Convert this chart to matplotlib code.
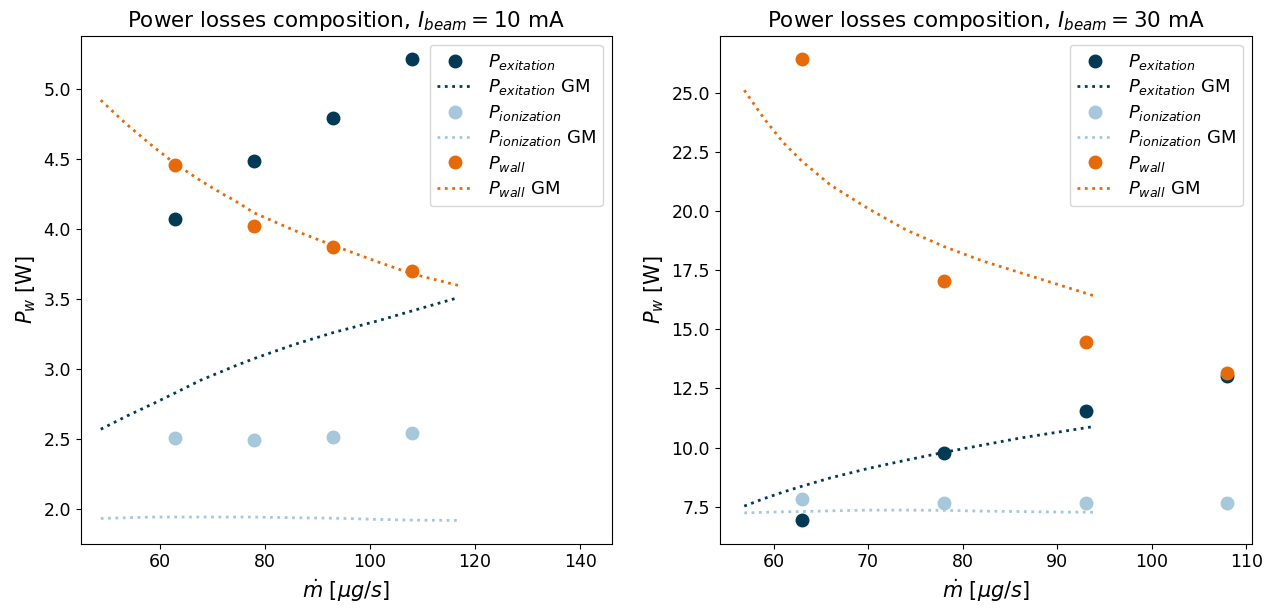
import matplotlib
matplotlib.use("Agg")
import matplotlib.pyplot as plt
import numpy as np

# measured mass flow points
m_dot = [63, 78, 93, 108]

# I_beam = 10 mA
exc_10 = [4.07, 4.485, 4.79, 5.215]
ion_10 = [2.51, 2.49, 2.515, 2.545]
wall_10 = [4.455, 4.02, 3.87, 3.70]

gm_x_10 = [48.8, 53.8, 58.9, 63, 67.8, 72, 74.2, 78, 85.6, 93, 101.6, 108, 116.8]
gm_exc_10 = [2.57, 2.665, 2.755, 2.83, 2.92, 2.985, 3.02, 3.075, 3.175, 3.26, 3.345, 3.415, 3.51]
gm_ion_10 = [1.933, 1.938, 1.943, 1.943, 1.943, 1.943, 1.943, 1.943, 1.938, 1.935, 1.926, 1.921, 1.919]
gm_wall_10 = [4.92, 4.745, 4.585, 4.465, 4.345, 4.25, 4.205, 4.115, 3.99, 3.883, 3.764, 3.68, 3.597]

# I_beam = 30 mA
exc_30 = [6.93, 9.78, 11.53, 13.03]
ion_30 = [7.81, 7.67, 7.66, 7.67]
wall_30 = [26.42, 17.04, 14.45, 13.15]

gm_x_30 = [56.9, 59, 61, 63, 66, 70, 74, 78, 82, 86, 90, 94]
gm_exc_30 = [7.53, 7.85, 8.12, 8.37, 8.72, 9.12, 9.47, 9.80, 10.10, 10.40, 10.65, 10.90]
gm_ion_30 = [7.24, 7.27, 7.29, 7.30, 7.33, 7.36, 7.36, 7.35, 7.32, 7.30, 7.28, 7.27]
gm_wall_30 = [25.1, 23.9, 22.9, 22.1, 21.1, 20.1, 19.2, 18.5, 17.9, 17.4, 16.9, 16.4]

c_exc = '#023a56'
c_ion = '#a7c8da'
c_wall = '#e66a0a'

fig = plt.figure(figsize=(12.76, 6.10), dpi=100)
ax1 = fig.add_axes([0.0633, 0.109, 0.4161, 0.8324])
ax2 = fig.add_axes([0.564, 0.109, 0.417, 0.8324])


def draw(ax, gm_x, exc, gm_exc, ion, gm_ion, wall, gm_wall, current):
    ax.plot(m_dot, exc, 'o', color=c_exc, ms=9, label=r'$P_{exitation}$')
    ax.plot(gm_x, gm_exc, ':', color=c_exc, lw=2, label=r'$P_{exitation}$ GM')
    ax.plot(m_dot, ion, 'o', color=c_ion, ms=9, label=r'$P_{ionization}$')
    ax.plot(gm_x, gm_ion, ':', color=c_ion, lw=2, label=r'$P_{ionization}$ GM')
    ax.plot(m_dot, wall, 'o', color=c_wall, ms=9, label=r'$P_{wall}$')
    ax.plot(gm_x, gm_wall, ':', color=c_wall, lw=2, label=r'$P_{wall}$ GM')
    ax.set_title(r'Power losses composition, $I_{beam} = %d$ mA' % current, fontsize=15.5)
    ax.set_xlabel(r'$\dot{m}$ [$\mu g/s$]', fontsize=15)
    ax.set_ylabel(r'$P_w$ [W]', fontsize=15)
    ax.tick_params(labelsize=12.5)
    ax.legend(loc='upper right', fontsize=13, labelspacing=0.3)


draw(ax1, gm_x_10, exc_10, gm_exc_10, ion_10, gm_ion_10, wall_10, gm_wall_10, 10)
ax1.set_xlim(45, 146)
ax1.set_ylim(1.754, 5.38)

draw(ax2, gm_x_30, exc_30, gm_exc_30, ion_30, gm_ion_30, wall_30, gm_wall_30, 30)
ax2.set_xlim(54.3, 110.57)
ax2.set_ylim(5.95, 27.4)

fig.savefig('out.png', dpi=100)
